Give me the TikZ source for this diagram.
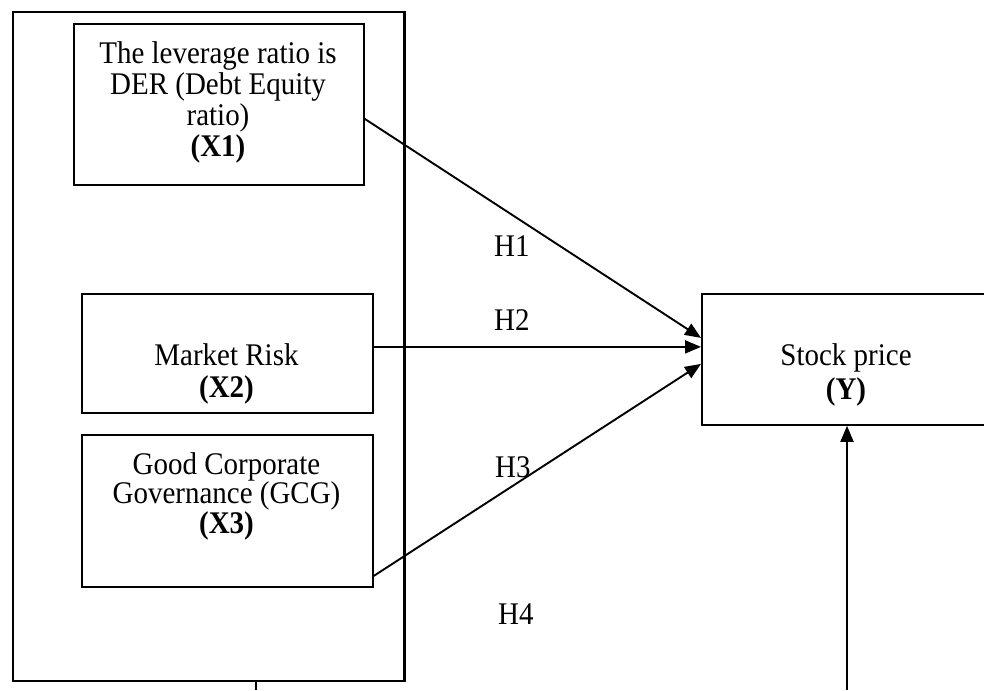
\documentclass[tikz,border=0pt]{standalone}
\usepackage{fontspec}
\setmainfont{Liberation Serif}
\newfontfamily\tallfont[FakeStretch=0.92]{Liberation Serif}
\usetikzlibrary{arrows.meta,calc}
\begin{document}
\begin{tikzpicture}[x=1pt,y=-1pt,
  box/.style={draw,line width=1.8pt,inner sep=0pt,anchor=north west},
  outer/.style={draw,line width=2.4pt},
  txt/.style={align=center,inner sep=0pt,anchor=north,font=\tallfont\fontsize{31.5}{31}\selectfont},
  hlab/.style={inner sep=0pt,anchor=base west,font=\tallfont\fontsize{31.5}{31}\selectfont},
  conn/.style={line width=1.9pt,-{Triangle[length=16pt,width=13pt]}}]
\useasboundingbox (0,0) rectangle (984,690);
\clip (0,0) rectangle (984,690);
% outer frame
\draw[outer] (13,12) rectangle (404.5,681);
\coordinate (tickTop) at (256,681);
\coordinate (tickBot) at (256,690);
\draw[line width=1.4pt] (tickTop) -- (tickBot);
% boxes
\node[box,minimum width=290pt,minimum height=161pt] (x1) at (73,23) {};
\node[box,minimum width=291pt,minimum height=119pt] (x2) at (81,293) {};
\node[box,minimum width=291pt,minimum height=152pt] (x3) at (81,434) {};
\node[box,minimum width=290pt,minimum height=131pt] (y) at (701,293) {};
% texts
\node[txt] (x1t) at (218,41.5) {The leverage ratio is\\DER (Debt Equity\\ratio)\\\textbf{(X1)}};
\node[txt,font=\tallfont\fontsize{31.5}{32}\selectfont] (x2t) at (226.5,343.5) {Market Risk\\\textbf{(X2)}};
\node[txt,font=\tallfont\fontsize{31.5}{29.5}\selectfont] (x3t) at (226.5,452) {Good Corporate\\Governance (GCG)\\\textbf{(X3)}};
\node[txt,font=\tallfont\fontsize{31.5}{34}\selectfont] (yt) at (846,343) {Stock price\\\textbf{(Y)}};
% connectors
\coordinate (bot) at (847,690);
\draw[conn] ([yshift=-14.5pt]x1.east) -- ([yshift=21.5pt]y.west);
\draw[conn] ([yshift=6.5pt]x2.east) -- ([yshift=12.5pt]y.west);
\draw[conn] ([yshift=-65pt]x3.east) -- ([yshift=-4.5pt]y.west);
\draw[conn] (bot) -- (y.south -| bot);
% labels
\node[hlab] (h1) at (494,256) {H1};
\node[hlab] (h2) at (494,330) {H2};
\node[hlab] (h3) at (495,477) {H3};
\node[hlab] (h4) at (498,624) {H4};
\end{tikzpicture}
\end{document}
